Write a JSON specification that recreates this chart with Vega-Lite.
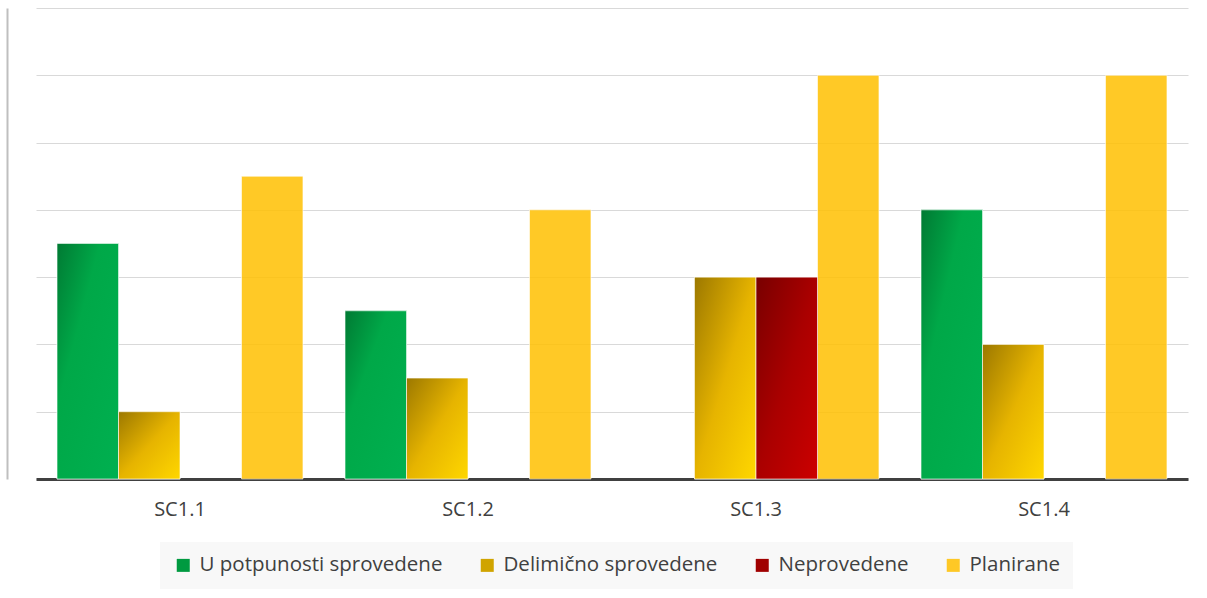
{
  "$schema": "https://vega.github.io/schema/vega-lite/v6.json",
  "width": 1152,
  "height": 471,
  "autosize": "none",
  "padding": {"left": 36, "top": 8, "right": 19, "bottom": 119},
  "background": "#ffffff",
  "config": {
    "view": {"stroke": null},
    "font": "Open Sans"
  },
  "data": {
    "values": [
      {"cat": "SC1.1", "series": "U potpunosti sprovedene", "value": 3.5},
      {"cat": "SC1.1", "series": "Delimično sprovedene", "value": 1},
      {"cat": "SC1.1", "series": "Planirane", "value": 4.5},
      {"cat": "SC1.2", "series": "U potpunosti sprovedene", "value": 2.5},
      {"cat": "SC1.2", "series": "Delimično sprovedene", "value": 1.5},
      {"cat": "SC1.2", "series": "Planirane", "value": 4},
      {"cat": "SC1.3", "series": "Delimično sprovedene", "value": 3},
      {"cat": "SC1.3", "series": "Neprovedene", "value": 3},
      {"cat": "SC1.3", "series": "Planirane", "value": 6},
      {"cat": "SC1.4", "series": "U potpunosti sprovedene", "value": 4},
      {"cat": "SC1.4", "series": "Delimično sprovedene", "value": 2},
      {"cat": "SC1.4", "series": "Planirane", "value": 6}
    ]
  },
  "encoding": {
    "x": {
      "field": "cat",
      "type": "nominal",
      "title": null,
      "scale": {"paddingInner": 0.146, "paddingOuter": 0.073},
      "axis": {
        "labelAngle": 0,
        "labelFontSize": 20,
        "labelColor": "#404040",
        "labelPadding": 20,
        "ticks": false,
        "domainColor": "#404040",
        "domainWidth": 3
      }
    },
    "xOffset": {
      "field": "series",
      "type": "nominal",
      "sort": ["U potpunosti sprovedene", "Delimično sprovedene", "Neprovedene", "Planirane"],
      "scale": {"domain": ["U potpunosti sprovedene", "Delimično sprovedene", "Neprovedene", "Planirane"], "paddingInner": 0, "paddingOuter": 0}
    },
    "y": {
      "field": "value",
      "type": "quantitative",
      "title": null,
      "scale": {"domain": [0, 7], "nice": false},
      "axis": {
        "values": [0, 1, 2, 3, 4, 5, 6, 7],
        "labels": false,
        "ticks": false,
        "grid": true,
        "gridColor": "#D9D9D9",
        "gridWidth": 1,
        "domain": true,
        "domainColor": "#BFBFBF",
        "domainWidth": 2,
        "offset": 29
      }
    }
  },
  "layer": [
    {
      "mark": {"type": "bar", "stroke": "#ffffff", "strokeOpacity": 0.6, "strokeWidth": 1},
      "encoding": {
        "color": {
          "field": "series",
          "type": "nominal",
          "sort": ["U potpunosti sprovedene", "Delimično sprovedene", "Neprovedene", "Planirane"],
          "scale": {
            "domain": ["U potpunosti sprovedene", "Delimično sprovedene", "Neprovedene", "Planirane"],
            "range": ["#009A40", "#D0A400", "#A00000", "rgba(255,192,0,0.85)"]
          },
          "legend": {
            "title": null,
            "orient": "none",
            "direction": "horizontal",
            "legendX": 124,
            "legendY": 534,
            "fillColor": "#F8F8F8",
            "padding": 13,
            "symbolType": "square",
            "symbolSize": 169,
            "symbolStrokeWidth": 0,
            "labelFontSize": 20.5,
            "labelColor": "#404040",
            "labelOffset": 6,
            "columnPadding": 34,
            "labelLimit": 400
          }
        }
      }
    },
    {
      "transform": [{"filter": "datum.series === 'U potpunosti sprovedene'"}],
      "mark": {"type": "bar", "stroke": "#ffffff", "strokeOpacity": 0.6, "strokeWidth": 1,
        "color": {"gradient": "linear", "x1": 0, "y1": 0, "x2": 1, "y2": 1, "stops": [{"offset": 0, "color": "#007A33"}, {"offset": 0.35, "color": "#00A848"}, {"offset": 1, "color": "#00B050"}]}}
    },
    {
      "transform": [{"filter": "datum.series === 'Delimično sprovedene'"}],
      "mark": {"type": "bar", "stroke": "#ffffff", "strokeOpacity": 0.6, "strokeWidth": 1,
        "color": {"gradient": "linear", "x1": 0, "y1": 0, "x2": 1, "y2": 1, "stops": [{"offset": 0, "color": "#9C7800"}, {"offset": 0.5, "color": "#E6B400"}, {"offset": 1, "color": "#FFD700"}]}}
    },
    {
      "transform": [{"filter": "datum.series === 'Neprovedene'"}],
      "mark": {"type": "bar", "stroke": "#ffffff", "strokeOpacity": 0.6, "strokeWidth": 1,
        "color": {"gradient": "linear", "x1": 0, "y1": 0, "x2": 1, "y2": 1, "stops": [{"offset": 0, "color": "#780000"}, {"offset": 0.5, "color": "#AA0000"}, {"offset": 1, "color": "#CC0000"}]}}
    }
  ]
}
